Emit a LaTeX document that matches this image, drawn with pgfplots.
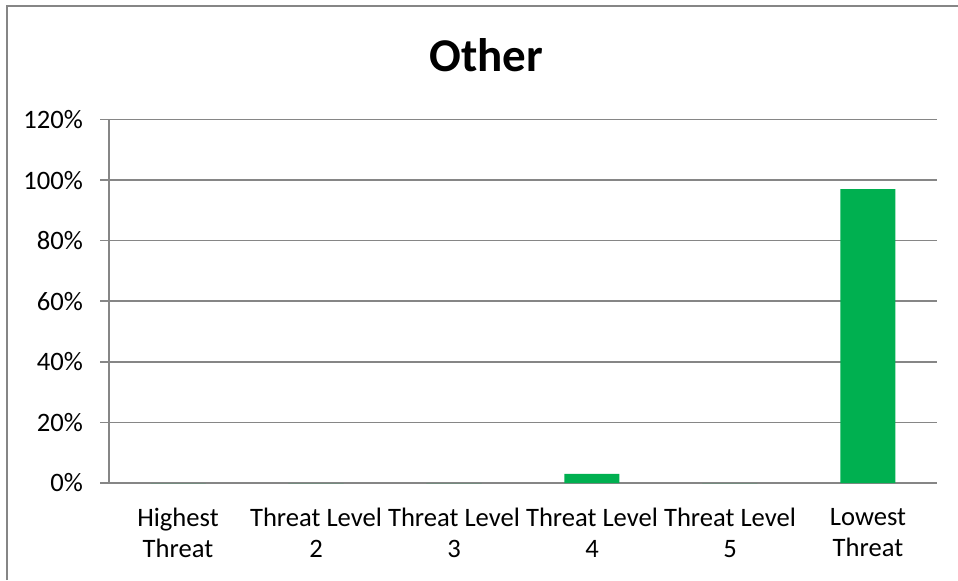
\documentclass[border=0pt]{standalone}
\usepackage{pgfplots}
\pgfplotsset{compat=1.18}
\usepackage{fontspec}
\setmainfont{Carlito}
\definecolor{barg}{RGB}{0,176,80}
\definecolor{gridg}{RGB}{134,134,134}
\begin{document}
\begin{tikzpicture}[x=1pt,y=1pt]
\useasboundingbox (0,0) rectangle (479,290);
\draw[gridg, line width=0.8pt] (3.5,0) -- (3.5,287) -- (479,287);
\node[anchor=base, font=\fontsize{23.5}{28}\selectfont\bfseries] at (243.25,254.2) {Other};
\begin{axis}[
    at={(54.5pt,48.5pt)}, anchor=south west,
    scale only axis,
    width=414pt, height=181.75pt,
    xmin=-0.5, xmax=5.5,
    ymin=0, ymax=120,
    axis x line*=bottom, axis y line*=left,
    axis line style={gridg, line width=0.8pt, -},
    ytick={0,20,...,120},
    yticklabel={\pgfmathprintnumber{\tick}\%},
    /pgf/number format/assume math mode=true,
    ymajorgrids,
    grid style={gridg, line width=0.8pt},
    tick align=outside,
    major tick length=4.5pt,
    minor tick length=4.5pt,
    y tick style={gridg, line width=0.8pt},
    xtick={0,...,5},
    xticklabels={Highest\\Threat, Threat Level\\2, Threat Level\\3, Threat Level\\4, Threat Level\\5, Lowest\\Threat},
    x tick style={draw=none},
    minor xtick={-0.5,0.5,...,5.5},
    minor x tick style={gridg, line width=0.8pt},
    xticklabel style={align=center, font=\fontsize{13.3}{15.5}\selectfont, yshift=-4.5pt},
    yticklabel style={font=\fontsize{13.3}{15.5}\selectfont, xshift=-5pt},
    ybar, bar width=27.5pt,
]
\addplot[fill=barg, draw=none] coordinates {(0,0) (1,0) (2,0) (3,3) (4,0) (5,97)};
\end{axis}
\end{tikzpicture}
\end{document}
